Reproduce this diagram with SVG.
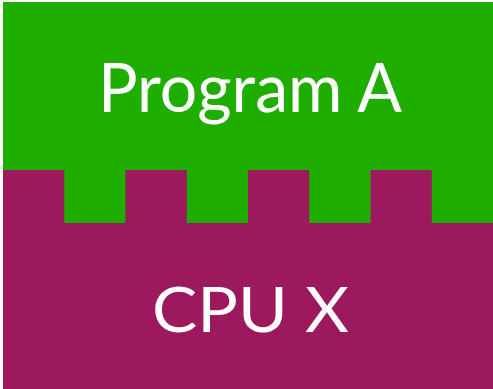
<svg xmlns="http://www.w3.org/2000/svg" width="493" height="389" viewBox="0 0 493 389">
<style>
.green{fill:#1fae00}
.purple{fill:#9c195e}
.lbl{fill:#ffffff;font-family:Lato,"Open Sans","Liberation Sans",sans-serif;text-anchor:middle}
</style>
<rect width="493" height="389" fill="#ffffff"/>
<g id="cpu">
<rect class="purple" x="3" y="170" width="490" height="219"/>
<text class="lbl" x="250.5" y="332" font-size="62" textLength="197" lengthAdjust="spacingAndGlyphs">CPU X</text>
</g>
<g id="program">
<path class="green" d="M3,2 H493 V223 H431.75 V170 H370.5 V223 H309.25 V170 H248 V223 H186.75 V170 H125.5 V223 H64.25 V170 H3 Z"/>
<text class="lbl" x="250" y="112" font-size="67" textLength="304" lengthAdjust="spacingAndGlyphs">Program A</text>
</g>
</svg>
